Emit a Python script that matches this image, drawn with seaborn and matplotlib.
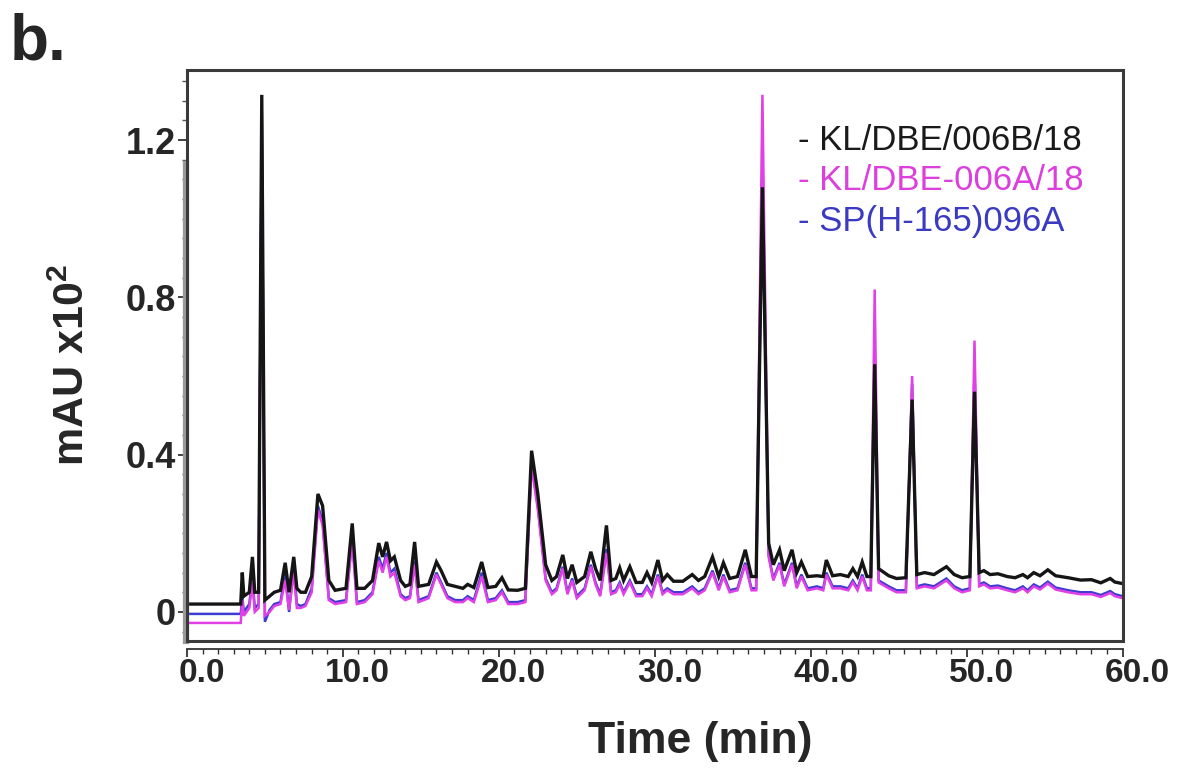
import numpy as np
import pandas as pd
import matplotlib
matplotlib.use("Agg")
import matplotlib.pyplot as plt
import matplotlib.transforms as mtransforms
from matplotlib.patches import Rectangle
from matplotlib.ticker import MultipleLocator
import seaborn as sns

# retention time (min) and absorbance (mAU x10^2)
time = [0.0, 3.45, 3.55, 3.65, 4.0, 4.2, 4.35, 4.6, 4.8, 5.0, 5.3, 5.6, 6.0, 6.3,
        6.55, 6.85, 7.05, 7.3, 7.6, 8.0, 8.4, 8.7, 9.1, 9.5, 10.2, 10.6, 10.9,
        11.4, 11.9, 12.3, 12.55, 12.8, 13.05, 13.3, 13.7, 14.0, 14.3, 14.6, 14.85,
        15.5, 16.0, 16.3, 16.7, 17.2, 17.7, 18.0, 18.4, 18.9, 19.3, 19.8, 20.2,
        20.6, 21.2, 21.7, 22.1, 22.5, 23.0, 23.4, 23.7, 24.1, 24.4, 24.7, 25.0,
        25.5, 25.9, 26.2, 26.5, 26.9, 27.2, 27.5, 27.75, 28.0, 28.4, 28.8, 29.2,
        29.5, 29.8, 30.2, 30.5, 30.8, 31.2, 31.8, 32.4, 32.8, 33.2, 33.7, 34.1,
        34.4, 34.8, 35.3, 35.8, 36.2, 36.5, 36.9, 37.3, 37.6, 38.0, 38.3, 38.8,
        39.1, 39.4, 39.8, 40.4, 40.8, 41.0, 41.4, 41.9, 42.4, 42.7, 43.0, 43.3,
        43.6, 43.85, 44.1, 44.35, 45.0, 45.5, 46.1, 46.5, 46.8, 47.3, 47.9, 48.7,
        49.2, 49.7, 50.2, 50.5, 50.8, 51.1, 51.5, 52.0, 52.6, 53.1, 53.6, 53.9,
        54.3, 54.7, 55.2, 55.7, 56.5, 57.3, 58.0, 58.6, 59.2, 59.5, 60.0]

kl_006b = [0.02, 0.02, 0.10, 0.04, 0.05, 0.14, 0.05, 0.05, 1.315, 0.03, 0.04, 0.05,
           0.055, 0.125, 0.05, 0.14, 0.06, 0.05, 0.05, 0.09, 0.30, 0.27, 0.08, 0.055,
           0.06, 0.225, 0.06, 0.06, 0.08, 0.175, 0.14, 0.178, 0.13, 0.14, 0.08, 0.065,
           0.07, 0.178, 0.065, 0.07, 0.127, 0.105, 0.07, 0.065, 0.06, 0.07, 0.062,
           0.127, 0.062, 0.065, 0.087, 0.056, 0.055, 0.06, 0.41, 0.30, 0.12, 0.08,
           0.09, 0.145, 0.085, 0.12, 0.075, 0.09, 0.153, 0.11, 0.08, 0.22, 0.08,
           0.085, 0.112, 0.08, 0.115, 0.075, 0.075, 0.10, 0.075, 0.132, 0.08, 0.095,
           0.078, 0.078, 0.095, 0.08, 0.09, 0.14, 0.09, 0.125, 0.085, 0.09, 0.158,
           0.09, 0.09, 1.08, 0.175, 0.12, 0.158, 0.105, 0.158, 0.10, 0.127, 0.09,
           0.092, 0.09, 0.132, 0.092, 0.095, 0.09, 0.11, 0.09, 0.127, 0.09, 0.09,
           0.63, 0.11, 0.092, 0.085, 0.087, 0.54, 0.095, 0.10, 0.095, 0.115, 0.095,
           0.087, 0.09, 0.56, 0.10, 0.105, 0.095, 0.097, 0.09, 0.087, 0.095, 0.087,
           0.10, 0.092, 0.107, 0.092, 0.087, 0.081, 0.082, 0.074, 0.085, 0.076, 0.072]

kl_006a = [-0.028, -0.028, 0.03, -0.01, 0.01, 0.08, 0.0, 0.01, 1.26, -0.01, 0.0, 0.015,
           0.02, 0.08, 0.005, 0.10, 0.01, 0.01, 0.015, 0.05, 0.26, 0.22, 0.03, 0.02,
           0.025, 0.18, 0.02, 0.025, 0.045, 0.13, 0.10, 0.14, 0.09, 0.10, 0.04, 0.03,
           0.035, 0.12, 0.025, 0.035, 0.095, 0.07, 0.035, 0.025, 0.025, 0.035, 0.025,
           0.09, 0.025, 0.03, 0.05, 0.02, 0.02, 0.025, 0.37, 0.26, 0.08, 0.045,
           0.055, 0.11, 0.045, 0.08, 0.035, 0.055, 0.115, 0.07, 0.04, 0.15, 0.045,
           0.05, 0.07, 0.045, 0.075, 0.04, 0.04, 0.06, 0.04, 0.09, 0.045, 0.055,
           0.045, 0.045, 0.06, 0.045, 0.055, 0.10, 0.055, 0.09, 0.05, 0.055, 0.12,
           0.055, 0.055, 1.315, 0.14, 0.08, 0.12, 0.065, 0.12, 0.06, 0.09, 0.055,
           0.06, 0.055, 0.095, 0.06, 0.06, 0.055, 0.075, 0.055, 0.09, 0.055, 0.055,
           0.82, 0.075, 0.06, 0.05, 0.05, 0.60, 0.06, 0.065, 0.06, 0.08, 0.06,
           0.05, 0.055, 0.69, 0.065, 0.07, 0.06, 0.062, 0.055, 0.05, 0.06, 0.05,
           0.065, 0.057, 0.072, 0.057, 0.05, 0.045, 0.045, 0.038, 0.048, 0.04, 0.035]

sp_096a = [-0.005, -0.005, 0.04, 0.0, 0.02, 0.09, 0.01, 0.02, 1.27, -0.025, 0.005, 0.02,
           0.025, 0.10, 0.0, 0.12, 0.02, 0.015, 0.02, 0.06, 0.27, 0.23, 0.035, 0.025,
           0.03, 0.19, 0.025, 0.03, 0.05, 0.14, 0.11, 0.15, 0.10, 0.11, 0.045, 0.035,
           0.04, 0.13, 0.03, 0.04, 0.10, 0.075, 0.04, 0.03, 0.03, 0.04, 0.03,
           0.10, 0.03, 0.035, 0.055, 0.025, 0.025, 0.03, 0.38, 0.27, 0.085, 0.05,
           0.06, 0.115, 0.05, 0.085, 0.04, 0.06, 0.12, 0.075, 0.045, 0.16, 0.05,
           0.055, 0.075, 0.05, 0.08, 0.045, 0.045, 0.065, 0.045, 0.095, 0.05, 0.06,
           0.05, 0.05, 0.065, 0.05, 0.06, 0.105, 0.06, 0.095, 0.055, 0.06, 0.125,
           0.06, 0.06, 1.10, 0.145, 0.085, 0.125, 0.07, 0.125, 0.065, 0.095, 0.06,
           0.065, 0.06, 0.10, 0.065, 0.065, 0.06, 0.08, 0.06, 0.095, 0.06, 0.06,
           0.66, 0.08, 0.065, 0.055, 0.055, 0.58, 0.065, 0.07, 0.065, 0.085, 0.065,
           0.055, 0.06, 0.62, 0.07, 0.075, 0.065, 0.067, 0.06, 0.055, 0.065, 0.055,
           0.07, 0.062, 0.077, 0.062, 0.055, 0.05, 0.05, 0.043, 0.053, 0.045, 0.04]

samples = ["KL/DBE/006B/18", "KL/DBE-006A/18", "SP(H-165)096A"]
colors = {"KL/DBE/006B/18": "#151515",
          "KL/DBE-006A/18": "#e040e6",
          "SP(H-165)096A": "#3c3cd0"}
label_colors = ["#1a1a1a", "#dd3fdd", "#3a3ac2"]

df = pd.concat([
    pd.DataFrame({"time": time, "mau": kl_006b, "sample": samples[0]}),
    pd.DataFrame({"time": time, "mau": kl_006a, "sample": samples[1]}),
    pd.DataFrame({"time": time, "mau": sp_096a, "sample": samples[2]}),
])

sns.set_style("white")
plt.rcParams["font.family"] = ["Liberation Sans", "DejaVu Sans"]

fig = plt.figure(figsize=(11.83, 7.70), dpi=100)
ax = fig.add_axes([0.158, 0.1675, 0.791, 0.7415])

# blue first, black last so it sits on top
draw_order = [samples[2], samples[1], samples[0]]
sns.lineplot(data=df, x="time", y="mau", hue="sample", hue_order=draw_order,
             palette=colors, estimator=None, sort=False, legend=False, ax=ax)
for line, lw in zip(ax.get_lines(), [1.8, 1.8, 2.4]):
    line.set_linewidth(lw)
    line.set_solid_joinstyle("miter")

ax.set_xlim(0, 60)
ax.set_ylim(-0.074, 1.378)

# box around the plot area
ax.add_patch(Rectangle((0, 0), 1, 1, transform=ax.transAxes, fill=False,
                       edgecolor="#3a3a3a", lw=2.2, clip_on=False, zorder=5))
ax.spines["top"].set_visible(False)
ax.spines["right"].set_visible(False)
ax.spines["bottom"].set_position(("outward", 6))
ax.spines["bottom"].set_color("#333333")
ax.spines["bottom"].set_linewidth(1.3)
ax.spines["left"].set_position(("outward", 1))
ax.spines["left"].set_color("#9a9a9a")
ax.spines["left"].set_linewidth(4.5)
ax.spines["left"].set_bounds(-0.074, 1.14)

ax.xaxis.set_minor_locator(MultipleLocator(1))
ax.set_xticks([0, 10, 20, 30, 40, 50, 60])
ax.set_xticklabels(["0.0", "10.0", "20.0", "30.0", "40.0", "50.0", "60.0"])
ax.set_yticks([0, 0.4, 0.8, 1.2])
ax.set_yticklabels(["0", "0.4", "0.8", "1.2"])
ax.yaxis.set_minor_locator(MultipleLocator(0.05))

ax.tick_params(axis="x", which="major", direction="out", length=6, width=1.3,
               color="#333333", pad=0, bottom=True)
ax.tick_params(axis="x", which="minor", direction="out", length=3.5, width=1,
               color="#333333", bottom=True)
ax.tick_params(axis="y", which="major", direction="out", length=6, width=1.3,
               color="#333333", pad=1, left=True)
ax.tick_params(axis="y", which="minor", direction="out", length=3, width=1,
               color="#555555", left=True)

for lab in ax.get_xticklabels():
    lab.set_fontweight("bold")
    lab.set_fontsize(24)
    lab.set_transform(lab.get_transform() +
                      mtransforms.ScaledTranslation(0.15, 0, fig.dpi_scale_trans))
for lab in ax.get_yticklabels():
    lab.set_fontweight("bold")
    lab.set_fontsize(26)

ax.set_xlabel("")
ax.set_ylabel("mAU x10$^\\mathregular{2}$", fontsize=31, fontweight="bold")
ax.yaxis.set_label_coords(-0.10, 0.483)
fig.text(700 / 1183, 1 - 742 / 770, "Time (min)", ha="center", va="center",
         fontsize=32, fontweight="bold")

fig.text(10 / 1183, 1 - 12 / 770, "b.", ha="left", va="top",
         fontsize=46, fontweight="bold")

# sample labels in place of a legend
for i, (name, c) in enumerate(zip(samples, label_colors)):
    fig.text(798 / 1183, 1 - (141 + 40 * i) / 770, "- " + name, color=c,
             ha="left", va="center", fontsize=25)

fig.savefig("out.png", dpi=100)
